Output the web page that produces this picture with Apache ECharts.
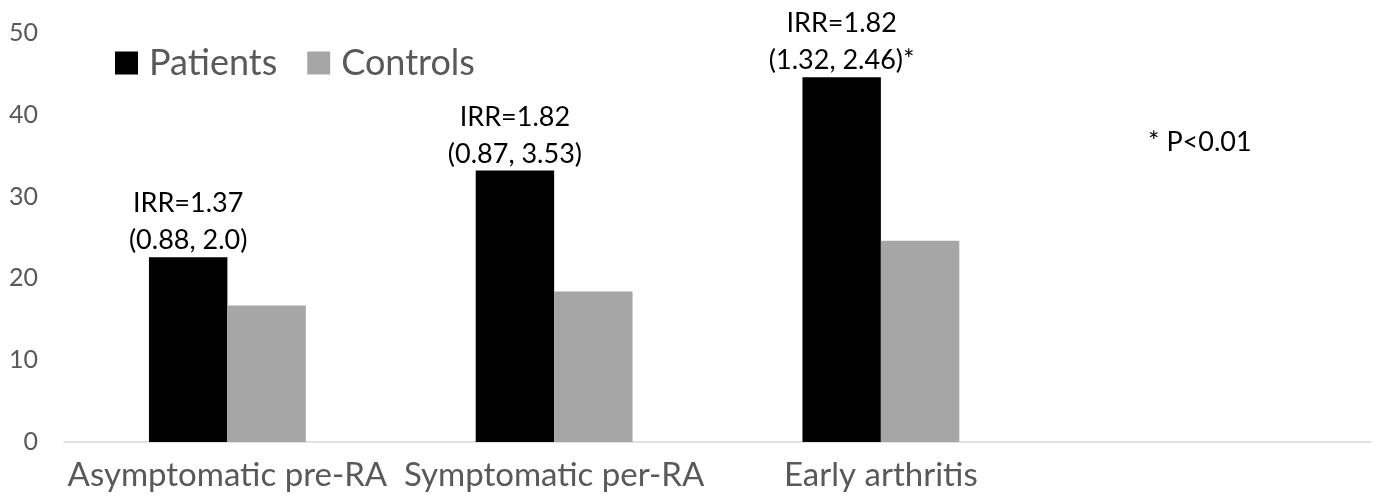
<!DOCTYPE html>
<html><head><meta charset="utf-8">
<script src="https://cdn.jsdelivr.net/npm/echarts@6/dist/echarts.min.js"></script>
<style>html,body{margin:0;padding:0;background:#fff}#c{width:1384px;height:500px}</style>
</head><body><div id="c"></div>
<script>
const categories = ["Asymptomatic pre-RA", "Symptomatic per-RA", "Early arthritis", ""];
const patients = [22.6, 33.2, 44.6, null];
const controls = [16.7, 18.4, 24.6, null];
const irrLabels = ["IRR=1.37\n(0.88, 2.0)", "IRR=1.82\n(0.87, 3.53)", "IRR=1.82\n(1.32, 2.46)*", ""];
const yTicks = [0, 10, 20, 30, 40, 50];
const noteText = "* P<0.01";
const FONT = "Lato";
const chart = echarts.init(document.getElementById('c'));
chart.setOption({
  animation: false,
  textStyle: { fontFamily: FONT },
  grid: { left: 64, right: 13, top: 33, bottom: 58 },
  legend: {
    left: 110, top: 40, itemWidth: 23, itemHeight: 23, itemGap: 30,
    icon: 'rect',
    textStyle: { fontSize: 36, color: '#595959', fontFamily: FONT, padding: [0, 0, 0, 6] },
    data: ['Patients', 'Controls']
  },
  xAxis: {
    type: 'category', data: categories,
    axisLine: { lineStyle: { color: '#d9d9d9', width: 1.5 } },
    axisTick: { show: false },
    axisLabel: { fontSize: 33, color: '#595959', margin: 17, fontFamily: FONT, interval: 0 }
  },
  yAxis: {
    type: 'value', min: yTicks[0], max: yTicks[yTicks.length - 1], interval: 10,
    axisLine: { show: false }, axisTick: { show: false },
    splitLine: { show: false },
    axisLabel: { fontSize: 25, color: '#595959', margin: 26, fontFamily: FONT }
  },
  series: [
    {
      name: 'Patients', type: 'bar', data: patients, barWidth: '24%', barGap: '0%',
      itemStyle: { color: '#000000' },
      label: {
        show: true, position: 'top', distance: -2, color: '#000', fontSize: 27, lineHeight: 37,
        fontFamily: FONT,
        formatter: p => irrLabels[p.dataIndex]
      }
    },
    {
      name: 'Controls', type: 'bar', data: controls, barWidth: '24%', barGap: '0%',
      itemStyle: { color: '#a6a6a6' }
    }
  ],
  graphic: [{
    type: 'text', left: 1148, top: 129,
    style: { text: noteText, font: '27px ' + FONT, fill: '#000' }
  }]
});
</script></body></html>
